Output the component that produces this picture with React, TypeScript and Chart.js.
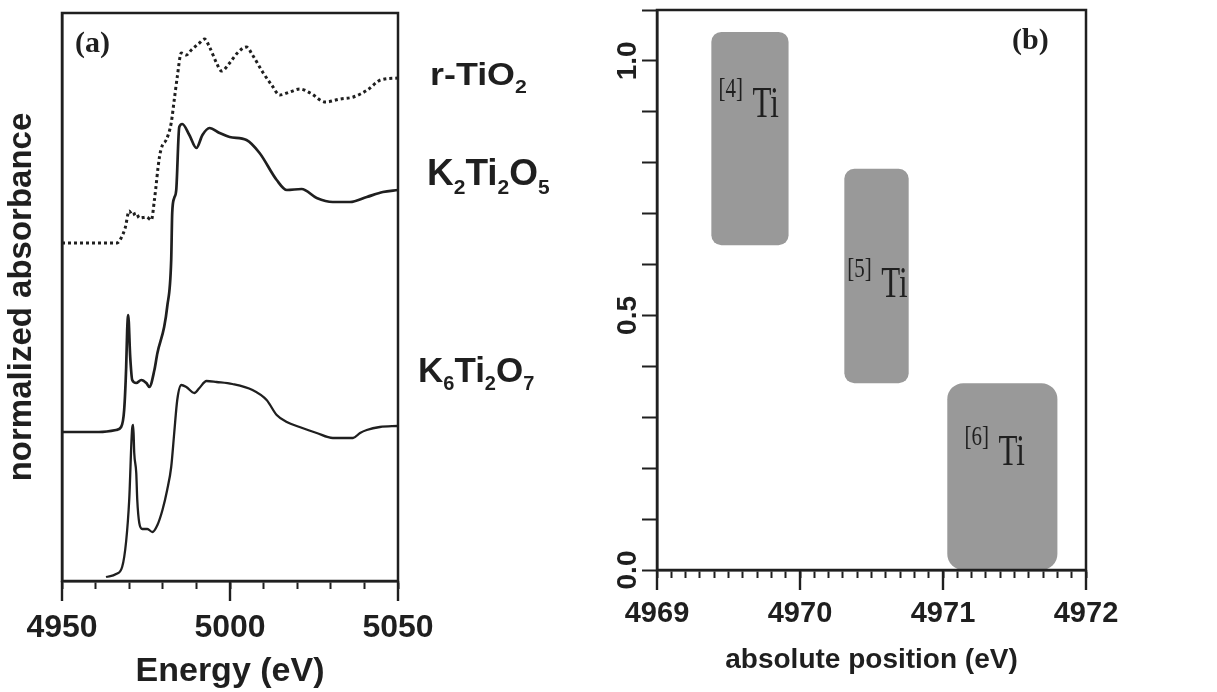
import React, { useEffect, useRef } from "react";
import { Chart, registerables } from "chart.js";

Chart.register(...registerables);

const INK = "#1f1f1f";
const SANS = '"Liberation Sans", Arial, Helvetica, sans-serif';
const SERIF = '"Liberation Serif", "Times New Roman", serif';

// ---------- Panel (a): XANES spectra ----------
const energyTiO2 = [4950, 4966.4, 4967.6, 4968.8, 4970.0, 4970.9, 4972.1, 4973.0, 4975.1, 4976.6, 4977.5, 4979.0, 4979.9, 4981.0, 4982.5, 4983.4, 4984.3, 4985.5, 4987.0, 4988.5, 4990.9, 4992.4, 4993.9, 4996.0, 4997.5, 4999.9, 5002.2, 5004.9, 5006.7, 5009.7, 5012.4, 5014.8, 5017.8, 5020.8, 5023.9, 5028.4, 5032.8, 5036.7, 5040.9, 5044.8, 5050];
const absTiO2 = [3.37, 3.37, 3.42, 3.52, 3.69, 3.65, 3.67, 3.62, 3.63, 3.60, 3.80, 4.23, 4.35, 4.40, 4.57, 4.80, 5.03, 5.27, 5.25, 5.30, 5.37, 5.41, 5.33, 5.17, 5.09, 5.17, 5.27, 5.33, 5.25, 5.08, 4.95, 4.85, 4.88, 4.91, 4.87, 4.78, 4.81, 4.83, 4.90, 5.00, 5.02];

const energyK2Ti2O5 = [4950, 4961.0, 4966.1, 4967.6, 4968.5, 4969.1, 4969.4, 4969.7, 4970.3, 4970.9, 4972.1, 4973.6, 4975.1, 4976.0, 4977.5, 4978.4, 4980.4, 4981.3, 4982.5, 4982.8, 4983.4, 4984.0, 4984.9, 4985.8, 4987.9, 4990.0, 4991.8, 4993.9, 4996.9, 4999.9, 5004.9, 5008.8, 5013.9, 5016.9, 5021.3, 5025.8, 5030.6, 5035.7, 5040.7, 5045.5, 5050];
const absK2Ti2O5 = [1.48, 1.48, 1.50, 1.53, 1.70, 2.13, 2.50, 2.65, 2.23, 2.00, 1.97, 2.00, 1.97, 1.93, 2.10, 2.27, 2.53, 2.73, 3.20, 3.67, 3.82, 3.90, 4.53, 4.56, 4.45, 4.32, 4.45, 4.52, 4.47, 4.43, 4.40, 4.27, 4.00, 3.90, 3.91, 3.82, 3.78, 3.78, 3.83, 3.88, 3.90];

const energyK6Ti2O7 = [4963.1, 4966.1, 4967.9, 4969.1, 4970.0, 4970.9, 4971.2, 4971.5, 4972.1, 4972.4, 4973.0, 4973.9, 4975.4, 4976.9, 4978.4, 4979.9, 4981.3, 4982.5, 4983.4, 4984.3, 4985.5, 4987.0, 4989.4, 4990.9, 4993.0, 4996.0, 5000.7, 5006.7, 5010.9, 5013.9, 5016.9, 5020.7, 5025.8, 5030.6, 5036.6, 5038.7, 5040.7, 5044.6, 5050];
const absK6Ti2O7 = [0.03, 0.06, 0.13, 0.39, 0.80, 1.52, 1.55, 1.27, 1.07, 0.80, 0.57, 0.51, 0.51, 0.48, 0.55, 0.70, 0.90, 1.13, 1.47, 1.80, 1.95, 1.93, 1.87, 1.92, 1.99, 1.98, 1.96, 1.90, 1.80, 1.65, 1.58, 1.53, 1.47, 1.42, 1.42, 1.47, 1.50, 1.53, 1.54];

const xTickLabelsA = [4950, 5000, 5050];
const curveNames = ["r-TiO_2", "K_2Ti_2O_5", "K_6Ti_2O_7"];
const curveNameLevels = [4.95, 3.95, 1.98];

// ---------- Panel (b): absolute pre-edge positions ----------
const siteNames = ["[4]", "[5]", "[6]"];
const siteXStart = [4969.38, 4970.31, 4971.03];
const siteXEnd = [4969.92, 4970.76, 4971.8];
const siteYLow = [0.638, 0.367, 0.0];
const siteYHigh = [1.057, 0.788, 0.367];
const siteLabelX = [4969.43, 4970.33, 4971.15];
const siteLabelY = [0.89, 0.536, 0.206];
const xTickLabelsB = [4969, 4970, 4971, 4972];
const yTickLabelsB = [0.0, 0.5, 1.0];

// layout / style (kept apart from data)
const curveLabelStyle = [
  { dx: 32, size: 32, sx: 1.12 },
  { dx: 29, size: 37, sx: 1.0 },
  { dx: 20, size: 35, sx: 1.0 },
];
const siteRadius = [10, 10, 16];

const toPoints = (xs: number[], ys: number[]) => xs.map((x, i) => ({ x, y: ys[i] }));

function drawChem(ctx: CanvasRenderingContext2D, text: string, x: number, y: number, size: number, sx: number) {
  ctx.save();
  ctx.translate(x, y);
  ctx.scale(sx, 1);
  ctx.fillStyle = INK;
  ctx.textBaseline = "alphabetic";
  ctx.textAlign = "left";
  let cx = 0;
  const parts = text.split(/(_\d)/).filter(Boolean);
  for (const p of parts) {
    if (p.startsWith("_")) {
      const s = p.slice(1);
      ctx.font = `bold ${Math.round(size * 0.58)}px ${SANS}`;
      ctx.fillText(s, cx, size * 0.24);
      cx += ctx.measureText(s).width;
    } else {
      ctx.font = `bold ${size}px ${SANS}`;
      ctx.fillText(p, cx, 0);
      cx += ctx.measureText(p).width;
    }
  }
  ctx.restore();
}

const framePlugin = {
  id: "frame",
  afterDraw(chart: any) {
    const { ctx, chartArea } = chart;
    const { left, top, right, bottom } = chartArea;
    ctx.save();
    ctx.strokeStyle = INK;
    ctx.lineWidth = 2.5;
    ctx.strokeRect(left, top, right - left, bottom - top);
    ctx.restore();
  },
};

const majorTicksPlugin = {
  id: "majorTicks",
  afterDraw(chart: any, _args: any, opts: any) {
    const s = chart.scales.x;
    const { ctx, chartArea } = chart;
    ctx.save();
    ctx.strokeStyle = INK;
    ctx.lineWidth = 2.4;
    for (const v of opts.values || []) {
      const x = s.getPixelForValue(v);
      ctx.beginPath();
      ctx.moveTo(x, chartArea.bottom);
      ctx.lineTo(x, chartArea.bottom + opts.length);
      ctx.stroke();
    }
    ctx.restore();
  },
};

const panelAText = {
  id: "panelAText",
  afterDraw(chart: any) {
    const { ctx, chartArea } = chart;
    const y = chart.scales.y;
    curveNames.forEach((name, i) => {
      const st = curveLabelStyle[i];
      drawChem(ctx, name, chartArea.right + st.dx, y.getPixelForValue(curveNameLevels[i]), st.size, st.sx);
    });
    ctx.save();
    ctx.fillStyle = INK;
    ctx.font = `bold 30px ${SERIF}`;
    ctx.textBaseline = "alphabetic";
    ctx.fillText("(a)", chartArea.left + 13, chartArea.top + 39);
    ctx.restore();
  },
};

const panelBText = {
  id: "panelBText",
  beforeDatasetsDraw(chart: any) {
    const { ctx } = chart;
    const xs = chart.scales.x;
    const ys = chart.scales.y;
    ctx.save();
    ctx.fillStyle = "#999999";
    siteNames.forEach((_n, i) => {
      const x0 = xs.getPixelForValue(siteXStart[i]);
      const x1 = xs.getPixelForValue(siteXEnd[i]);
      const y0 = ys.getPixelForValue(siteYHigh[i]);
      const y1 = ys.getPixelForValue(siteYLow[i]);
      ctx.beginPath();
      (ctx as any).roundRect(x0, y0, x1 - x0, y1 - y0, siteRadius[i]);
      ctx.fill();
    });
    ctx.restore();
  },
  afterDraw(chart: any) {
    const { ctx, chartArea } = chart;
    const xs = chart.scales.x;
    const ys = chart.scales.y;
    ctx.save();
    ctx.fillStyle = INK;
    ctx.textBaseline = "alphabetic";
    ctx.textAlign = "left";
    siteNames.forEach((n, i) => {
      const lx = xs.getPixelForValue(siteLabelX[i]);
      const ly = ys.getPixelForValue(siteLabelY[i]);
      ctx.save();
      ctx.translate(lx, ly - 20);
      ctx.scale(1, 1.35);
      ctx.font = `21px ${SERIF}`;
      ctx.fillText(n, 0, 0);
      ctx.restore();
      ctx.save();
      ctx.translate(lx + 34, ly);
      ctx.scale(1, 1.4);
      ctx.font = `31px ${SERIF}`;
      ctx.fillText("Ti", 0, 0);
      ctx.restore();
    });
    // rotated y tick labels
    ctx.font = `bold 28px ${SANS}`;
    ctx.textAlign = "center";
    ctx.textBaseline = "middle";
    for (const v of yTickLabelsB) {
      ctx.save();
      ctx.translate(chartArea.left - 29, ys.getPixelForValue(v));
      ctx.rotate(-Math.PI / 2);
      ctx.fillText(v.toFixed(1), 0, 0);
      ctx.restore();
    }
    ctx.textAlign = "left";
    ctx.textBaseline = "alphabetic";
    ctx.font = `bold 30px ${SERIF}`;
    ctx.fillText("(b)", chartArea.right - 74, chartArea.top + 39);
    ctx.restore();
  },
};

export default function App() {
  const refA = useRef<HTMLCanvasElement>(null);
  const refB = useRef<HTMLCanvasElement>(null);

  useEffect(() => {
    const lineCommon = {
      borderColor: INK,
      pointRadius: 0,
      fill: false,
      cubicInterpolationMode: "monotone" as const,
    };
    const chartA = new Chart(refA.current as HTMLCanvasElement, {
      type: "line",
      data: {
        datasets: [
          { ...lineCommon, label: "r-TiO2", data: toPoints(energyTiO2, absTiO2), borderWidth: 3, borderDash: [3, 3] },
          { ...lineCommon, label: "K2Ti2O5", data: toPoints(energyK2Ti2O5, absK2Ti2O5), borderWidth: 2.7 },
          { ...lineCommon, label: "K6Ti2O7", data: toPoints(energyK6Ti2O7, absK6Ti2O7), borderWidth: 2.3 },
        ],
      },
      options: {
        responsive: false,
        animation: false,
        devicePixelRatio: 1,
        layout: { padding: { left: 0, right: 202, top: 13, bottom: 0 }, autoPadding: false },
        plugins: {
          legend: { display: false },
          tooltip: { enabled: false },
          majorTicks: { values: xTickLabelsA, length: 20 },
        } as any,
        scales: {
          x: {
            type: "linear",
            min: 4950,
            max: 5050,
            afterFit: (s: any) => { s.height = 111; },
            grid: { display: true, drawOnChartArea: false, drawTicks: true, tickLength: 8, tickWidth: 2, tickColor: INK },
            border: { display: true, color: INK, width: 2.5 },
            ticks: {
              stepSize: 10,
              autoSkip: false,
              maxRotation: 0,
              minRotation: 0,
              padding: 20,
              color: INK,
              font: { family: SANS, size: 32, weight: "bold" },
              callback: (v: any) => (xTickLabelsA.includes(Number(v)) ? String(v) : ""),
            },
            title: { display: true, text: "Energy (eV)", color: INK, font: { family: SANS, size: 34, weight: "bold" }, padding: { top: 0, bottom: 0 } },
          },
          y: {
            type: "linear",
            min: -0.01,
            max: 5.67,
            afterFit: (s: any) => { s.width = 62; },
            grid: { display: false },
            border: { display: true, color: INK, width: 2.5 },
            ticks: { display: false },
            title: { display: true, text: "normalized absorbance", color: INK, font: { family: SANS, size: 33, weight: "bold" }, padding: { top: 2, bottom: 0 } },
          },
        },
      },
      plugins: [framePlugin, majorTicksPlugin, panelAText],
    } as any);

    const chartB = new Chart(refB.current as HTMLCanvasElement, {
      type: "scatter",
      data: { datasets: [] },
      options: {
        responsive: false,
        animation: false,
        devicePixelRatio: 1,
        layout: { padding: { left: 0, right: 131, top: 10, bottom: 0 }, autoPadding: false },
        plugins: {
          legend: { display: false },
          tooltip: { enabled: false },
          majorTicks: { values: xTickLabelsB, length: 20 },
        } as any,
        scales: {
          x: {
            type: "linear",
            min: 4969,
            max: 4972,
            afterFit: (s: any) => { s.height = 122; },
            grid: { display: true, drawOnChartArea: false, drawTicks: true, tickLength: 8, tickWidth: 2, tickColor: INK },
            border: { display: true, color: INK, width: 2.5 },
            ticks: {
              stepSize: 0.1,
              autoSkip: false,
              maxRotation: 0,
              minRotation: 0,
              padding: 19,
              color: INK,
              font: { family: SANS, size: 29, weight: "bold" },
              callback: (v: any) => {
                const n = Number(v);
                return xTickLabelsB.some((t) => Math.abs(t - n) < 1e-6) ? String(Math.round(n)) : "";
              },
            },
            title: { display: true, text: "absolute position (eV)", color: INK, font: { family: SANS, size: 28, weight: "bold" }, padding: { top: 0, bottom: 15 } },
          },
          y: {
            type: "linear",
            min: 0,
            max: 1.1,
            afterFit: (s: any) => { s.width = 57; },
            grid: { display: true, drawOnChartArea: false, drawTicks: true, tickLength: 15, tickWidth: 2, tickColor: INK },
            border: { display: true, color: INK, width: 2.5 },
            ticks: { stepSize: 0.1, autoSkip: false, display: false },
          },
        },
      },
      plugins: [panelBText, framePlugin, majorTicksPlugin],
    } as any);

    return () => {
      chartA.destroy();
      chartB.destroy();
    };
  }, []);

  return (
    <div style={{ position: "absolute", left: 0, top: 0, width: 1217, height: 692, background: "#ffffff" }}>
      <canvas ref={refA} width={600} height={692} style={{ position: "absolute", left: 0, top: 0 }} />
      <canvas ref={refB} width={617} height={692} style={{ position: "absolute", left: 600, top: 0 }} />
    </div>
  );
}
